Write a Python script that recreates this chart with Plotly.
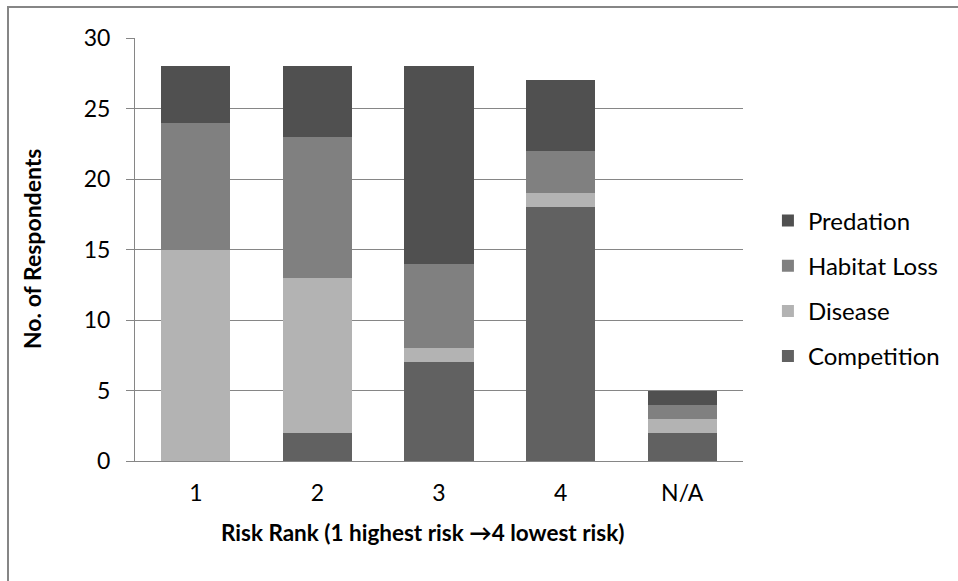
import plotly.graph_objects as go

categories = ["1", "2", "3", "4", "N/A"]
competition = [0, 2, 7, 18, 2]
disease = [15, 11, 1, 1, 1]
habitat_loss = [9, 10, 6, 3, 1]
predation = [4, 5, 14, 5, 1]

# (name, values, colour, legend rank) - stacked bottom to top
series = [
    ("Competition", competition, "#616161", 4),
    ("Disease", disease, "#b3b3b3", 3),
    ("Habitat Loss", habitat_loss, "#808080", 2),
    ("Predation", predation, "#505050", 1),
]

FONT = "Lato, 'Open Sans', sans-serif"

fig = go.Figure()
for name, vals, color, rank in series:
    fig.add_trace(go.Bar(
        x=categories, y=vals, name=name, legendgroup=name, legendrank=rank,
        marker=dict(color=color, line=dict(width=0)),
    ))

fig.update_layout(
    barmode="stack",
    bargap=0.43,
    width=958, height=581,
    margin=dict(l=135, r=215, t=38, b=120),
    paper_bgcolor="white", plot_bgcolor="white",
    font=dict(family=FONT, size=23, color="black"),
    legend=dict(
        x=1.041, y=0.408, xanchor="left", yanchor="middle",
        traceorder="grouped", tracegroupgap=11,
        font=dict(size=24), itemwidth=30,
    ),
    xaxis=dict(
        showline=True, linecolor="#868686", linewidth=1,
        ticks="", tickfont=dict(size=23), ticklabelstandoff=11,
    ),
    yaxis=dict(
        range=[0, 30], dtick=5,
        showgrid=True, gridcolor="#868686", gridwidth=1,
        showline=True, linecolor="#868686", linewidth=1,
        ticks="outside", ticklen=8, tickcolor="#868686",
        tickfont=dict(size=23), zeroline=False, ticklabelstandoff=11,
    ),
    annotations=[
        dict(text="<b>Risk Rank (1 highest risk \u21924 lowest risk)</b>",
             xref="paper", yref="paper", x=(422 - 135) / 608, y=-(532 - 461) / 423,
             xanchor="center", yanchor="middle", showarrow=False,
             font=dict(size=22.5)),
        dict(text="<b>No. of Respondents</b>", textangle=-90,
             xref="paper", yref="paper", x=-(135 - 32) / 608, y=(461 - 249) / 423,
             xanchor="center", yanchor="middle", showarrow=False,
             font=dict(size=23)),
    ],
)

# outer chart frame (runs past the right and bottom edges)
fig.add_shape(type="rect", xref="paper", yref="paper",
              x0=-127 / 608, x1=1.6, y0=-0.5, y1=1 + 31 / 423,
              line=dict(color="#868686", width=2), layer="below")

fig.write_html("out.html")
